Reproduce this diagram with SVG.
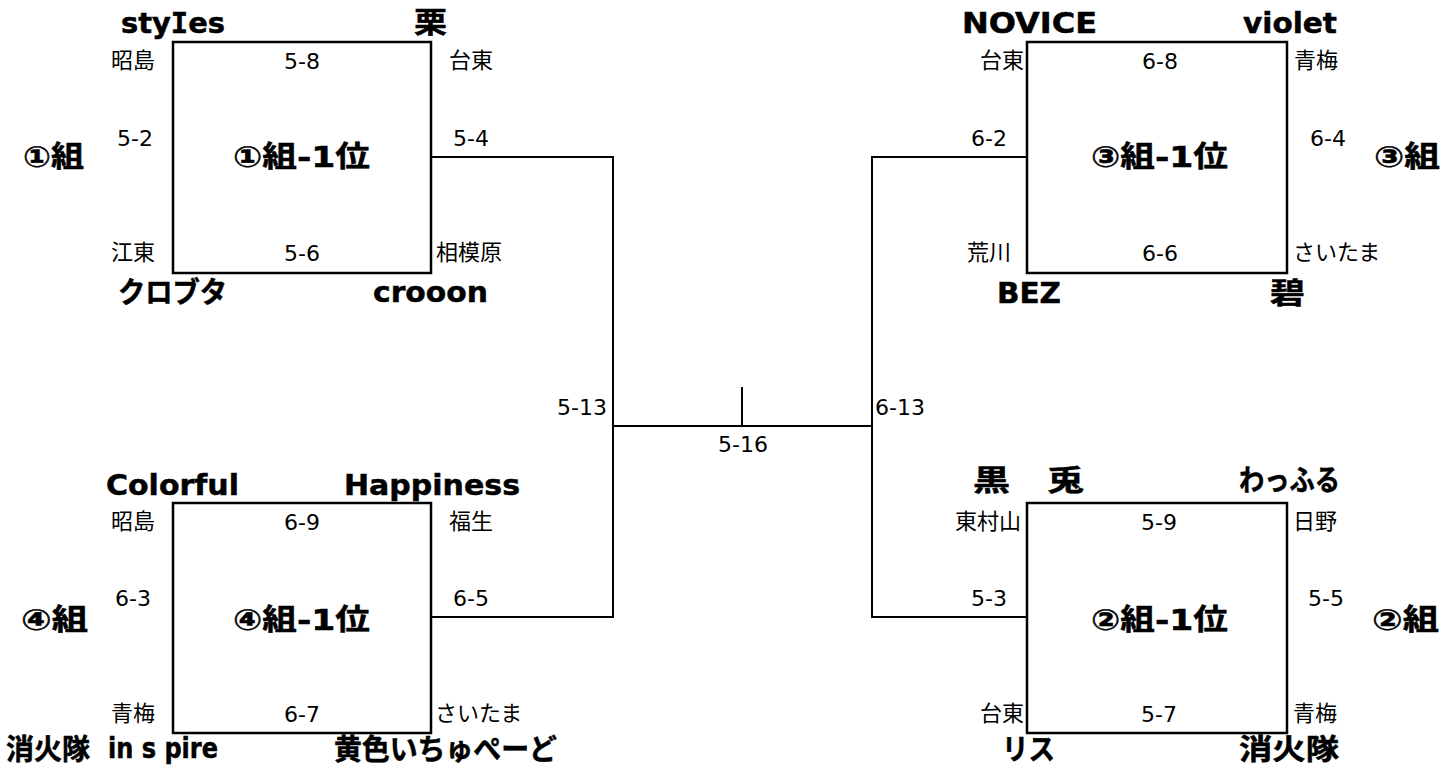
<svg xmlns="http://www.w3.org/2000/svg" width="1456" height="771" viewBox="0 0 1456 771">
<style>
.box{fill:#fff;stroke:#000;stroke-width:2.5}
.ln{fill:none;stroke:#000;stroke-width:2}
.s{font-family:"DejaVu Sans","Noto Sans CJK JP",sans-serif;font-size:22px;fill:#000}
.m{text-anchor:middle}
.b{font-family:"DejaVu Sans","Noto Sans CJK JP",sans-serif;font-size:29px;font-weight:bold;fill:#000;stroke:#000;stroke-width:0.5}
.k{font-family:"DejaVu Sans","Noto Sans CJK JP",sans-serif;font-size:29px;font-weight:bold;fill:#000;stroke:#000;stroke-width:0.5}
.i{font-family:"DejaVu Sans Mono",monospace}
</style>
<rect width="1456" height="771" fill="#fff"/>
<g id="connectors">
<path class="ln" d="M431 157H613V617H431"/>
<path class="ln" d="M613 426H872"/>
<path class="ln" d="M742 387V426"/>
<path class="ln" d="M1027 157H872V617H1027"/>
<text class="s" x="557" y="415">5-13</text>
<text class="s" x="875" y="415">6-13</text>
<text class="s m" x="743" y="452">5-16</text>
</g>
<g id="group1">
<rect class="box" x="173" y="42" width="258" height="231"/>
<text class="b" x="121" y="33" textLength="104" lengthAdjust="spacingAndGlyphs">sty<tspan class="i">I</tspan>es</text>
<text class="k" x="414" y="33" textLength="33" lengthAdjust="spacingAndGlyphs">栗</text>
<text class="s" x="111" y="68">昭島</text>
<text class="s m" x="302" y="69">5-8</text>
<text class="s" x="449" y="68">台東</text>
<text class="s" x="117" y="146">5-2</text>
<text class="k" x="23" y="167" textLength="61" lengthAdjust="spacingAndGlyphs">①組</text>
<text class="k" x="233" y="167" textLength="137" lengthAdjust="spacingAndGlyphs">①組-1位</text>
<text class="s" x="453" y="146">5-4</text>
<text class="s" x="111" y="260">江東</text>
<text class="s m" x="302" y="261">5-6</text>
<text class="s" x="436" y="260">相模原</text>
<text class="k" x="118" y="303" textLength="109" lengthAdjust="spacingAndGlyphs">クロブタ</text>
<text class="b" x="373" y="302" textLength="115" lengthAdjust="spacingAndGlyphs">crooon</text>
</g>
<g id="group3">
<rect class="box" x="1027" y="42" width="260" height="231"/>
<text class="b" x="962" y="33" textLength="135" lengthAdjust="spacingAndGlyphs">NOVICE</text>
<text class="b" x="1243" y="33" textLength="94" lengthAdjust="spacingAndGlyphs">violet</text>
<text class="s" x="980" y="68">台東</text>
<text class="s m" x="1160" y="69">6-8</text>
<text class="s" x="1294" y="68">青梅</text>
<text class="s" x="971" y="146">6-2</text>
<text class="k" x="1091" y="167" textLength="137" lengthAdjust="spacingAndGlyphs">③組-1位</text>
<text class="s" x="1310" y="146">6-4</text>
<text class="k" x="1374" y="167" textLength="66" lengthAdjust="spacingAndGlyphs">③組</text>
<text class="s" x="967" y="260">荒川</text>
<text class="s m" x="1160" y="261">6-6</text>
<text class="s" x="1293" y="260">さいたま</text>
<text class="b" x="997" y="303" textLength="64" lengthAdjust="spacingAndGlyphs">BEZ</text>
<text class="k" x="1270" y="304" textLength="35" lengthAdjust="spacingAndGlyphs">碧</text>
</g>
<g id="group4">
<rect class="box" x="173" y="503" width="258" height="230"/>
<text class="b" x="106" y="495" textLength="133" lengthAdjust="spacingAndGlyphs">Colorful</text>
<text class="b" x="344" y="495" textLength="176" lengthAdjust="spacingAndGlyphs">Happiness</text>
<text class="s" x="111" y="529">昭島</text>
<text class="s m" x="302" y="530">6-9</text>
<text class="s" x="449" y="529">福生</text>
<text class="s" x="115" y="606">6-3</text>
<text class="k" x="21" y="630" textLength="67" lengthAdjust="spacingAndGlyphs">④組</text>
<text class="k" x="233" y="630" textLength="137" lengthAdjust="spacingAndGlyphs">④組-1位</text>
<text class="s" x="453" y="606">6-5</text>
<text class="s" x="111" y="721">青梅</text>
<text class="s m" x="302" y="722">6-7</text>
<text class="s" x="435" y="721">さいたま</text>
<text class="k" x="6" y="760" textLength="84" lengthAdjust="spacingAndGlyphs">消火隊</text>
<text class="b" x="108" y="758" textLength="110" lengthAdjust="spacingAndGlyphs">in s pire</text>
<text class="k" x="334" y="760" textLength="223" lengthAdjust="spacingAndGlyphs">黄色いちゅぺーど</text>
</g>
<g id="group2">
<rect class="box" x="1027" y="503" width="260" height="230"/>
<text class="k" x="973" y="491" textLength="111" lengthAdjust="spacingAndGlyphs">黒　兎</text>
<text class="k" x="1239" y="491" textLength="101" lengthAdjust="spacingAndGlyphs">わっふる</text>
<text class="s" x="955" y="529">東村山</text>
<text class="s m" x="1159" y="530">5-9</text>
<text class="s" x="1293" y="529">日野</text>
<text class="s" x="971" y="606">5-3</text>
<text class="k" x="1091" y="630" textLength="137" lengthAdjust="spacingAndGlyphs">②組-1位</text>
<text class="s" x="1308" y="606">5-5</text>
<text class="k" x="1372" y="630" textLength="67" lengthAdjust="spacingAndGlyphs">②組</text>
<text class="s" x="980" y="721">台東</text>
<text class="s m" x="1159" y="722">5-7</text>
<text class="s" x="1293" y="721">青梅</text>
<text class="k" x="1002" y="760" textLength="53" lengthAdjust="spacingAndGlyphs">リス</text>
<text class="k" x="1239" y="760" textLength="100" lengthAdjust="spacingAndGlyphs">消火隊</text>
</g>
</svg>
